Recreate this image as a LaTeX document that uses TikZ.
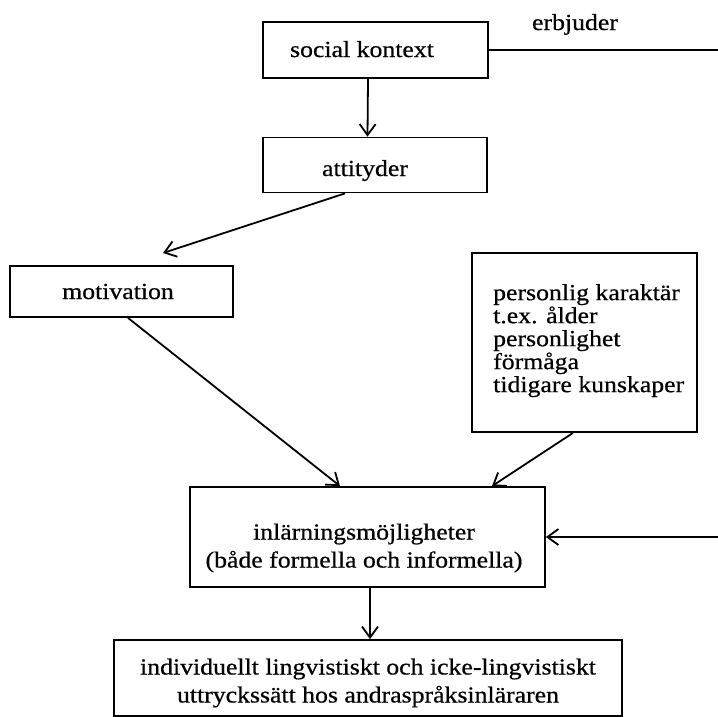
\documentclass[tikz,border=0pt]{standalone}
\usepackage{fontspec}
\setmainfont[FakeStretch=1.12,FakeBold=0.6]{Liberation Serif}
\usetikzlibrary{arrows.meta}
\begin{document}
\begin{tikzpicture}[x=1pt,y=-1pt,
  box/.style={draw,line width=1.8pt,rectangle,inner sep=0pt},
  lbl/.style={font=\fontsize{23}{23}\selectfont,inner sep=0pt,anchor=base},
  conn/.style={line width=1.8pt},
  arr/.style={conn,-{Straight Barb[length=11pt,width=16pt,line width=1.8pt]}}]
\useasboundingbox[fill=white] (0,0) rectangle (718,716);
% boxes
\node[box,minimum width=225pt,minimum height=56pt] (social) at (375.5,50) {};
\node[box,minimum width=224pt,minimum height=55pt] (attityder) at (375,165) {};
\node[box,minimum width=223pt,minimum height=51pt] (motivation) at (121.5,291.5) {};
\node[box,minimum width=225pt,minimum height=179pt] (personlig) at (584.5,342.5) {};
\node[box,minimum width=355pt,minimum height=100pt] (inl) at (367.5,537) {};
\node[box,minimum width=508pt,minimum height=76pt] (resultat) at (368,678) {};
% texts
\node[lbl] (socialtxt) at (362,57) {social kontext};
\node[lbl] (attityd) at (365,176) {attityder};
\node[lbl] (motivtxt) at (118,299) {motivation};
\node[lbl] (erbjuder) at (575,30) {erbjuder};
\node[lbl,anchor=north west,align=left,font=\fontsize{23}{23}\selectfont] (perstxt) at (493,284)
  {personlig karaktär\\t.ex. ålder\\personlighet\\förmåga\\tidigare kunskaper};
\node[lbl,anchor=center,align=center,font=\fontsize{23}{28}\selectfont] (inltxt) at (364,548)
  {inlärningsmöjligheter\\(både formella och informella)};
\node[lbl,anchor=center,align=center,font=\fontsize{23}{28}\selectfont] (restxt) at (368,683)
  {individuellt lingvistiskt och icke-lingvistiskt\\uttryckssätt hos andraspråksinläraren};
% free ends
\coordinate (rtop) at (718,50);
\coordinate (rmid) at (718,537);
\coordinate (motip) at (163,253);
% connectors
\draw[conn] (social.east) -- (rtop);
\draw[arr] ([xshift=-7.5pt]social.south) -- ([xshift=-7.5pt]attityder.north);
\draw[arr] ([xshift=-30pt]attityder.south) -- (motip);
\draw[arr] ([xshift=6.5pt]motivation.south) -- ([xshift=-27.5pt]inl.north);
\draw[arr] ([xshift=-11.5pt]personlig.south) -- ([xshift=124.5pt]inl.north);
\draw[arr] (rmid) -- (inl.east);
\draw[arr] ([xshift=2.5pt]inl.south) -- ([xshift=2pt]resultat.north);
\end{tikzpicture}
\end{document}
